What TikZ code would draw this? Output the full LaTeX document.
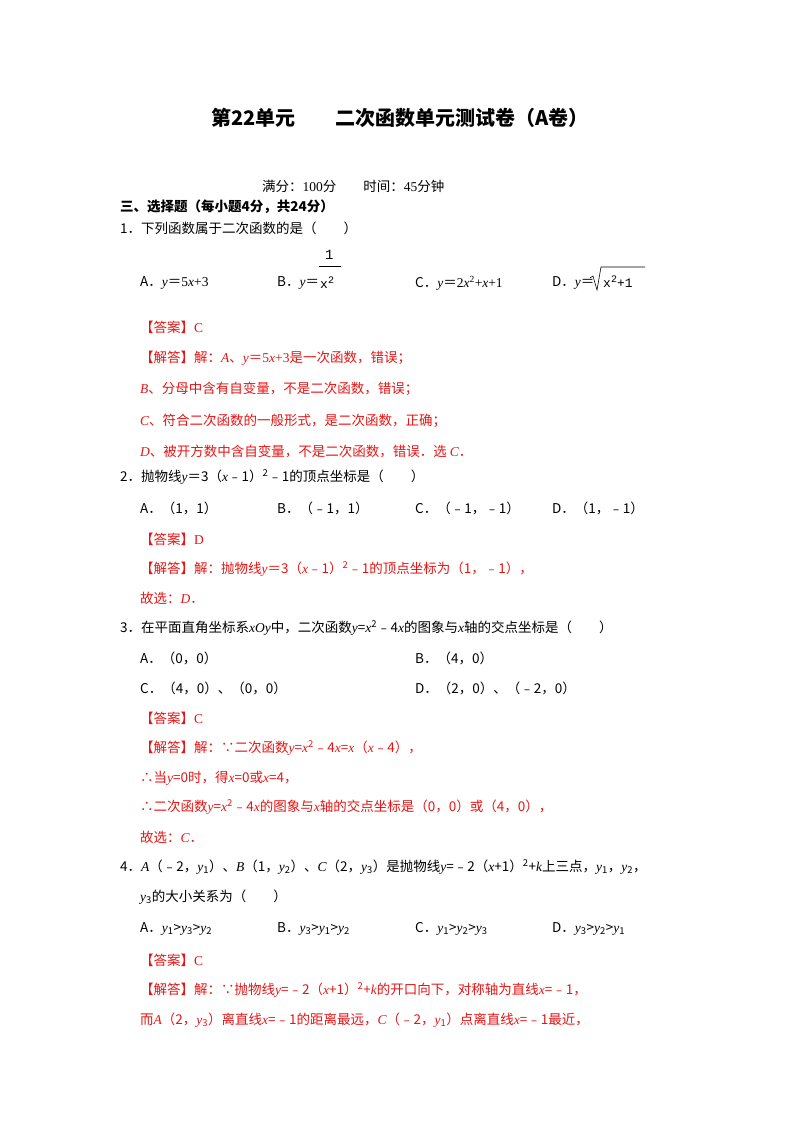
\documentclass[tikz,border=0pt]{standalone}
\usepackage{fontspec}
\setmainfont{Noto Sans CJK SC}
\newfontfamily\lser{Liberation Serif}
\newfontfamily\lmono{Liberation Mono}
\newcommand{\mv}[1]{{\lser\itshape #1}}
\newcommand{\mr}[1]{{\lser #1}}
\definecolor{ansred}{RGB}{230,20,20}
\begin{document}
\begin{tikzpicture}[x=1pt,y=-1pt,
  txt/.style={anchor=west,inner sep=0pt,font=\fontsize{13.5}{15}\selectfont},
  red/.style={txt,text=ansred}]
\useasboundingbox (0,0) rectangle (800,1132);
\node[anchor=center,inner sep=0pt,font=\fontsize{20}{22}\selectfont\bfseries] (title) at (400,118) {第22单元\hspace{2em}二次函数单元测试卷（A卷）};
\node[txt] (score) at (262,186) {满分：\mr{100}分\hspace{2em}时间：\mr{45}分钟};
\node[txt,font=\fontsize{13.5}{15}\selectfont\bfseries] (sec) at (120,207) {三、选择题（每小题4分，共24分）};
\node[txt] (q1) at (120,228) {1．下列函数属于二次函数的是（\hspace{2em}）};
\node[txt] (q1a) at (140,283) {A．\mv{y}＝\mr{5}\mv{x}\mr{+3}};
\node[txt] (q1b) at (277,283) {B．\mv{y}＝};
\node[txt,font=\fontsize{14}{15}\lmono] (q1bn) at (325,255) {1};
\draw[line width=0.6pt] (319,266) -- (341,266);
\node[txt,font=\fontsize{13}{15}\lmono] (q1bd) at (320,283) {x\raisebox{5pt}{\fontsize{10}{11}\selectfont 2}};
\node[txt] (q1c) at (415,283) {C．\mv{y}＝\mr{2}\mv{x}\textsuperscript{\mr{2}}\mr{+}\mv{x}\mr{+1}};
\node[txt] (q1d) at (552,283) {D．\mv{y}＝};
\draw[line width=0.6pt] (590,278) -- (593,276) -- (597,290) -- (601,267) -- (645,267);
\node[txt,font=\fontsize{13}{15}\lmono] (q1dr) at (603,282) {x\raisebox{5pt}{\fontsize{10}{11}\selectfont 2}+1};
\node[red] (a1) at (140,327) {【答案】\mr{C}};
\node[red] (s1a) at (140,358) {【解答】解：\mv{A}、\mv{y}＝\mr{5}\mv{x}\mr{+3}是一次函数，错误；};
\node[red] (s1b) at (140,389) {\mv{B}、分母中含有自变量，不是二次函数，错误；};
\node[red] (s1c) at (140,421) {\mv{C}、符合二次函数的一般形式，是二次函数，正确；};
\node[red] (s1d) at (140,451) {\mv{D}、被开方数中含自变量，不是二次函数，错误．选 \mv{C}．};
\node[txt] (q2) at (120,477) {2．抛物线\mv{y}＝3（\mv{x}﹣1）\textsuperscript{2}﹣1的顶点坐标是（\hspace{2em}）};
\node[txt] (q2a) at (140,508) {A．（1，1）};
\node[txt] (q2b) at (277,508) {B．（﹣1，1）};
\node[txt] (q2c) at (415,508) {C．（﹣1，﹣1）};
\node[txt] (q2d) at (552,508) {D．（1，﹣1）};
\node[red] (a2) at (140,539) {【答案】\mr{D}};
\node[red] (s2a) at (140,569) {【解答】解：抛物线\mv{y}＝3（\mv{x}﹣1）\textsuperscript{2}﹣1的顶点坐标为（1，﹣1），};
\node[red] (s2b) at (140,598) {故选：\mv{D}．};
\node[txt] (q3) at (120,628) {3．在平面直角坐标系\mv{xOy}中，二次函数\mv{y}=\mv{x}\textsuperscript{2}﹣4\mv{x}的图象与\mv{x}轴的交点坐标是（\hspace{2em}）};
\node[txt] (q3a) at (140,658) {A．（0，0）};
\node[txt] (q3b) at (415,658) {B．（4，0）};
\node[txt] (q3c) at (140,688) {C．（4，0）、（0，0）};
\node[txt] (q3d) at (415,688) {D．（2，0）、（﹣2，0）};
\node[red] (a3) at (140,718) {【答案】\mr{C}};
\node[red] (s3a) at (140,748) {【解答】解：∵二次函数\mv{y}=\mv{x}\textsuperscript{2}﹣4\mv{x}=\mv{x}（\mv{x}﹣4），};
\node[red] (s3b) at (140,778) {∴当\mv{y}=0时，得\mv{x}=0或\mv{x}=4，};
\node[red] (s3c) at (140,807) {∴二次函数\mv{y}=\mv{x}\textsuperscript{2}﹣4\mv{x}的图象与\mv{x}轴的交点坐标是（0，0）或（4，0），};
\node[red] (s3d) at (140,837) {故选：\mv{C}．};
\node[txt] (q4) at (120,867) {4．\mv{A}（﹣2，\mv{y}\textsubscript{1}）、\mv{B}（1，\mv{y}\textsubscript{2}）、\mv{C}（2，\mv{y}\textsubscript{3}）是抛物线\mv{y}=﹣2（\mv{x}+1）\textsuperscript{2}+\mv{k}上三点，\mv{y}\textsubscript{1}，\mv{y}\textsubscript{2}，};
\node[txt] (q4b) at (140,897) {\mv{y}\textsubscript{3}的大小关系为（\hspace{2em}）};
\node[txt] (q4oa) at (140,929) {A．\mv{y}\textsubscript{1}>\mv{y}\textsubscript{3}>\mv{y}\textsubscript{2}};
\node[txt] (q4ob) at (277,929) {B．\mv{y}\textsubscript{3}>\mv{y}\textsubscript{1}>\mv{y}\textsubscript{2}};
\node[txt] (q4oc) at (415,929) {C．\mv{y}\textsubscript{1}>\mv{y}\textsubscript{2}>\mv{y}\textsubscript{3}};
\node[txt] (q4od) at (552,929) {D．\mv{y}\textsubscript{3}>\mv{y}\textsubscript{2}>\mv{y}\textsubscript{1}};
\node[red] (a4) at (140,960) {【答案】\mr{C}};
\node[red] (s4a) at (140,990) {【解答】解：∵抛物线\mv{y}=﹣2（\mv{x}+1）\textsuperscript{2}+\mv{k}的开口向下，对称轴为直线\mv{x}=﹣1，};
\node[red] (s4b) at (140,1020) {而\mv{A}（2，\mv{y}\textsubscript{3}）离直线\mv{x}=﹣1的距离最远，\mv{C}（﹣2，\mv{y}\textsubscript{1}）点离直线\mv{x}=﹣1最近，};
\end{tikzpicture}
\end{document}
